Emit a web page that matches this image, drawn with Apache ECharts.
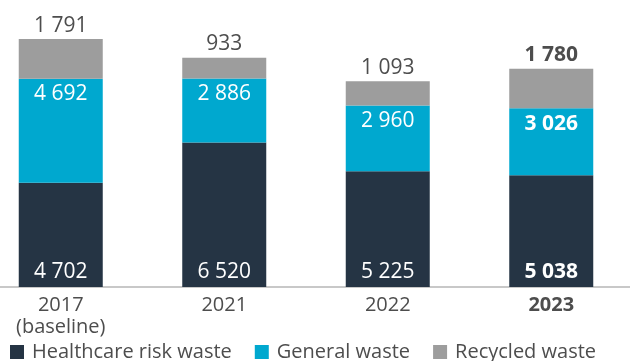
<!DOCTYPE html>
<html>
<head>
<meta charset="utf-8">
<script src="https://cdn.jsdelivr.net/npm/echarts@6/dist/echarts.min.js"></script>
<style>
  html, body { margin: 0; padding: 0; background: #fff; }
  #chart { width: 630px; height: 361px; }
</style>
</head>
<body>
<div id="chart"></div>
<script>
const categories = ['2017\n(baseline)', '2021', '2022', '2023'];
const healthcareRisk = [4702, 6520, 5225, 5038];
const generalWaste = [4692, 2886, 2960, 3026];
const recycledWaste = [1791, 933, 1093, 1780];
const boldIndex = 3; // latest year is emphasised

const FONT = '"Open Sans", "Noto Sans", sans-serif';
const TEXT = '#4d4d4d';

function fmt(v) {
  return String(v).replace(/\B(?=(\d{3})+(?!\d))/g, ' ');
}

function items(values) {
  return values.map((v, i) => i === boldIndex
    ? { value: v, label: { fontWeight: 'bold' } }
    : v);
}

const chart = echarts.init(document.getElementById('chart'), null, { renderer: 'canvas' });

chart.setOption({
  animation: false,
  textStyle: { fontFamily: FONT },
  grid: {
    left: -21, right: -3, top: 21, bottom: 74,
    containLabel: false,
    outerBoundsMode: 'none'
  },
  xAxis: {
    type: 'category',
    data: categories,
    axisLine: { lineStyle: { color: '#c8c8c8', width: 2 } },
    axisTick: { show: false },
    axisLabel: {
      color: TEXT,
      fontSize: 20,
      fontFamily: FONT,
      lineHeight: 22,
      margin: 7,
      formatter: (v, i) => i === boldIndex ? '{b|' + v + '}' : v,
      rich: { b: { fontWeight: 'bold', fontSize: 20, color: TEXT, fontFamily: FONT } }
    }
  },
  yAxis: {
    type: 'value',
    min: 0,
    max: 12000,
    show: false,
    splitLine: { show: false }
  },
  legend: {
    left: 5,
    top: 337,
    itemWidth: 14,
    itemHeight: 14,
    itemGap: 23,
    icon: 'rect',
    textStyle: { color: TEXT, fontSize: 20, fontFamily: FONT, padding: [0, 0, 0, 3] },
    data: ['Healthcare risk waste', 'General waste', 'Recycled waste']
  },
  series: [
    {
      name: 'Healthcare risk waste',
      type: 'bar',
      stack: 'waste',
      barWidth: 84,
      itemStyle: { color: '#253444' },
      label: {
        show: true, position: 'insideBottom', distance: 4,
        color: '#ffffff', fontSize: 21, fontFamily: FONT,
        formatter: p => fmt(p.value)
      },
      data: items(healthcareRisk)
    },
    {
      name: 'General waste',
      type: 'bar',
      stack: 'waste',
      barWidth: 84,
      itemStyle: { color: '#00A8CF' },
      label: {
        show: true, position: 'insideTop', distance: 5,
        color: '#ffffff', fontSize: 21, fontFamily: FONT,
        formatter: p => fmt(p.value)
      },
      data: items(generalWaste)
    },
    {
      name: 'Recycled waste',
      type: 'bar',
      stack: 'waste',
      barWidth: 84,
      itemStyle: { color: '#9D9D9D' },
      label: {
        show: true, position: 'top', distance: 3,
        color: TEXT, fontSize: 21, fontFamily: FONT,
        formatter: p => fmt(p.value)
      },
      data: items(recycledWaste)
    }
  ]
});
</script>
</body>
</html>
